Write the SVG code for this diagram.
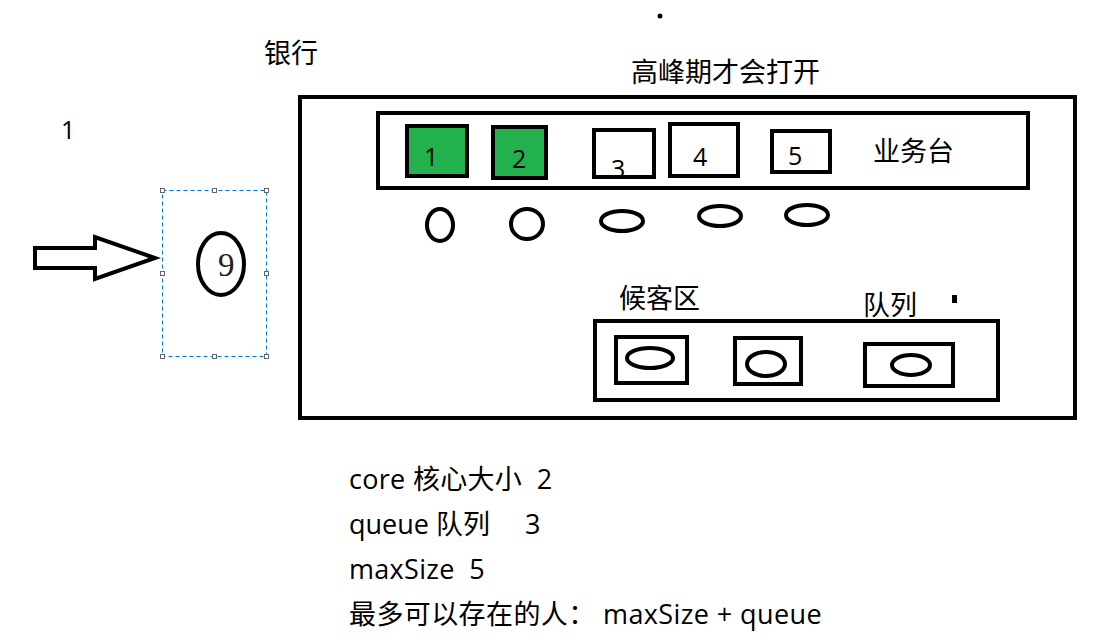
<svg xmlns="http://www.w3.org/2000/svg" width="1117" height="641" viewBox="0 0 1117 641">
<style>
.t{font-family:"Open Sans","Noto Sans CJK SC",sans-serif;font-size:27px;fill:#000;white-space:pre}
.d{font-family:"Open Sans","Noto Sans CJK SC",sans-serif;font-size:25px;fill:#000}
.b{fill:none;stroke:#000;stroke-width:4}
.w{fill:#fff;stroke:#000;stroke-width:4}
.g{fill:#22b14c;stroke:#000;stroke-width:4}
.h{fill:#fff;stroke:#666;stroke-width:1}
</style>
<rect width="1117" height="641" fill="#fff"/>
<circle cx="660" cy="16" r="2.5" fill="#000"/>
<text class="t" x="264" y="63">银行</text>
<text class="t" x="631" y="82">高峰期才会打开</text>
<text class="d" x="61" y="139">1</text>
<g id="arrow">
<path d="M35,248 H95 V237 L155,258 L95,279 V268 H35 Z" fill="#fff" stroke="#000" stroke-width="4" stroke-linejoin="miter"/>
</g>
<g id="person9">
<rect x="162.5" y="190.5" width="104" height="166" fill="none" stroke="#0078d7" stroke-width="1" stroke-dasharray="4,3"/>
<rect class="h" x="160.5" y="188.5" width="4" height="4"/>
<rect class="h" x="212.5" y="188.5" width="4" height="4"/>
<rect class="h" x="264.5" y="188.5" width="4" height="4"/>
<rect class="h" x="160.5" y="271.5" width="4" height="4"/>
<rect class="h" x="264.5" y="271.5" width="4" height="4"/>
<rect class="h" x="160.5" y="354.5" width="4" height="4"/>
<rect class="h" x="212.5" y="354.5" width="4" height="4"/>
<rect class="h" x="264.5" y="354.5" width="4" height="4"/>
<ellipse class="b" cx="221" cy="264" rx="23" ry="31"/>
<text x="218" y="276" font-family="'Liberation Serif',serif" font-size="33" fill="#222">9</text>
</g>
<g id="bank">
<rect class="b" x="300" y="97" width="775" height="321"/>
</g>
<g id="counter">
<rect class="b" x="378" y="113" width="650" height="75"/>
<text class="t" x="873" y="161">业务台</text>
</g>
<g id="w1"><rect class="g" x="407" y="126" width="60" height="50"/><text class="d" x="424" y="166">1</text></g>
<g id="w2"><rect class="g" x="493" y="127" width="53" height="51"/><text class="d" x="512" y="168">2</text></g>
<g id="w3"><rect class="w" x="594" y="130" width="60" height="47"/><text class="d" x="611" y="178">3</text></g>
<g id="w4"><rect class="w" x="670" y="124" width="68" height="52"/><text class="d" x="693" y="166">4</text></g>
<g id="w5"><rect class="w" x="772" y="131" width="58" height="41"/><text class="d" x="788" y="165">5</text></g>
<g id="people">
<ellipse class="b" cx="440" cy="225" rx="13" ry="16"/>
<ellipse class="b" cx="527" cy="224" rx="16" ry="15"/>
<ellipse class="b" cx="622" cy="221" rx="21" ry="10"/>
<ellipse class="b" cx="720" cy="216" rx="21" ry="10"/>
<ellipse class="b" cx="807" cy="215" rx="21" ry="10"/>
</g>
<g id="waiting">
<text class="t" x="619" y="308">候客区</text>
<text class="t" x="863" y="315">队列</text>
<rect x="952" y="295" width="5" height="8" fill="#000"/>
<rect class="b" x="595" y="321" width="403" height="79"/>
<rect class="b" x="616" y="337" width="71" height="46"/>
<ellipse class="b" cx="650" cy="358" rx="23" ry="10"/>
<rect class="b" x="735" y="338" width="66" height="46"/>
<ellipse class="b" cx="766" cy="364" rx="19" ry="12"/>
<rect class="b" x="865" y="344" width="88" height="42"/>
<ellipse class="b" cx="911" cy="365" rx="19" ry="10"/>
</g>
<g id="notes">
<text class="t" x="349" y="489" letter-spacing="0.3">core 核心大小  2</text>
<text class="t" x="349" y="534">queue 队列     3</text>
<text class="t" x="349" y="579" letter-spacing="0.3">maxSize  5</text>
<text class="t" x="349" y="624" letter-spacing="0.4">最多可以存在的人： maxSize + queue</text>
</g>
</svg>
